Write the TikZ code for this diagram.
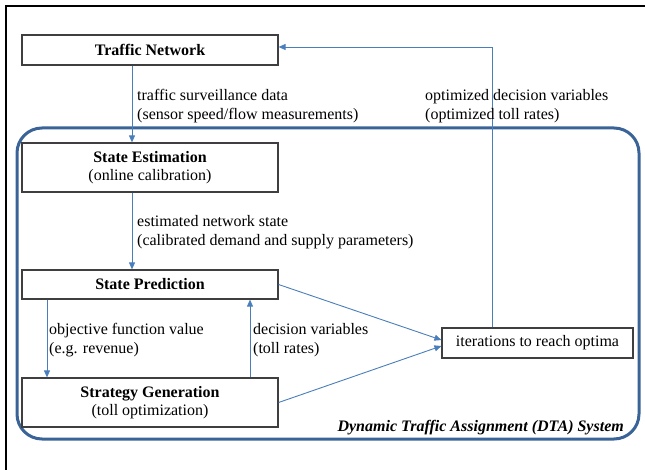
\documentclass[tikz,border=0pt]{standalone}
\usepackage{fontspec}
\setmainfont{Liberation Serif}
\usetikzlibrary{arrows.meta}
\definecolor{boxgray}{HTML}{3F3F3F}
\definecolor{flowblue}{HTML}{4A7EBB}
\definecolor{dtablue}{HTML}{3A6497}
\begin{document}
\begin{tikzpicture}[x=1pt,y=-1pt,
  font=\fontsize{16}{18.5}\selectfont,
  box/.style={draw=boxgray, line width=1.2pt, fill=white, inner sep=0pt, align=center, minimum width=256pt},
  flow/.style={draw=flowblue, line width=0.9pt, -{Triangle[length=7pt,width=6pt]}},
  lbl/.style={anchor=west, align=left, inner sep=0pt}]
\useasboundingbox (0,0) rectangle (645,470);
% outer frame
\draw[line width=2pt] (6,470) -- (6,6) -- (645,6);
% DTA system
\draw[dtablue, line width=3pt, rounded corners=25pt] (17,128) rectangle (639,439);
% boxes
\node[box, minimum height=30pt] (tn) at (150,50) {\textbf{Traffic Network}};
\node[box, minimum height=49pt] (se) at (150,167.5) {\textbf{State Estimation}\\(online calibration)};
\node[box, minimum height=29pt] (sp) at (150,284.5) {\textbf{State Prediction}};
\node[box, minimum height=49pt] (sg) at (150,402.5) {\textbf{Strategy Generation}\\(toll optimization)};
\node[box, minimum width=191pt, minimum height=30pt] (it) at (537.5,343) {iterations to reach optima};
% connectors
\draw[flow] ([xshift=-18pt]tn.south) -- ([xshift=-18pt]se.north);
\draw[flow] ([xshift=-18pt]se.south) -- ([xshift=-18pt]sp.north);
\draw[flow] ([xshift=-103pt]sp.south) -- ([xshift=-103pt]sg.north);
\draw[flow] ([xshift=100pt]sg.north) -- ([xshift=100pt]sp.south);
\draw[flow] (sp.east) -- ([yshift=3pt]it.west);
\draw[flow] (sg.east) -- ([yshift=-3pt]it.west);
\draw[flow] ([xshift=-45.5pt]it.north) |- ([yshift=3pt]tn.east);
% labels
\node[lbl] (l1) at (137,106) {traffic surveillance data\\(sensor speed/flow measurements)};
\node[lbl] (l2) at (425,106) {optimized decision variables\\(optimized toll rates)};
\node[lbl] (l3) at (137,232) {estimated network state\\(calibrated demand and supply parameters)};
\node[lbl] (l4) at (49,340) {objective function value\\(e.g. revenue)};
\node[lbl] (l5) at (253,340) {decision variables\\(toll rates)};
\node[anchor=base east, inner sep=0pt, font=\fontsize{16}{18.5}\selectfont\bfseries\itshape] (dta) at (624,431) {Dynamic Traffic Assignment (DTA) System};
\end{tikzpicture}
\end{document}
